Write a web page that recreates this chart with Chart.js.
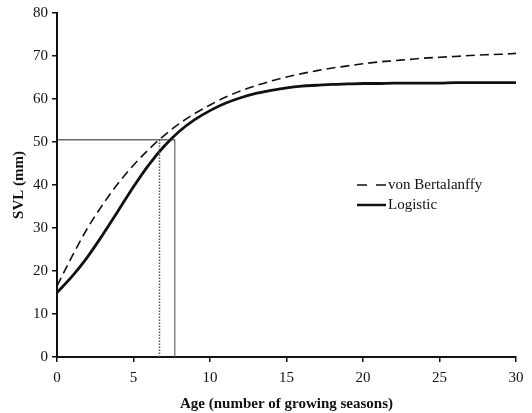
<!DOCTYPE html>
<html><head><meta charset="utf-8">
<script src="https://cdn.jsdelivr.net/npm/chart.js@4/dist/chart.umd.min.js"></script>
<style>html,body{margin:0;padding:0;background:#fff}#wrap{width:532px;height:413px}</style>
</head><body><div id="wrap"><canvas id="c" width="532" height="413"></canvas></div>
<script>
const ages = [0,1,2,3,4,5,6,7,8,9,10,11,12,13,14,15,16,17,18,19,20,21,22,23,24,25,26,27,28,29,30];
const vonBertalanffy = [16.5,23.5,30.0,35.5,40.4,44.6,48.3,51.5,54.3,56.6,58.6,60.4,61.9,63.1,64.2,65.1,65.9,66.6,67.2,67.7,68.2,68.6,68.9,69.2,69.5,69.7,69.9,70.1,70.3,70.4,70.6];
const logistic = [15.0,18.8,23.3,28.5,34.0,39.6,44.7,49.0,52.5,55.2,57.3,59.0,60.3,61.3,62.0,62.6,63.0,63.2,63.4,63.5,63.6,63.6,63.7,63.7,63.7,63.7,63.8,63.8,63.8,63.8,63.8];
const refSVL = 50.5;
const refAgeLogistic = 7.7;
const refAgeVB = 6.7;
const xTicks = [0,5,10,15,20,25,30];
const yTicks = [0,10,20,30,40,50,60,70,80];
const seriesNames = ['von Bertalanffy','Logistic'];

const pts = (xs, ys) => xs.map((x,i)=>({x:x,y:ys[i]}));
const serif = '"Liberation Serif", "Times New Roman", serif';

const legendPlugin = {
  id:'customLegend',
  afterDraw(chart){
    const ctx = chart.ctx;
    ctx.save();
    ctx.strokeStyle = '#111';
    ctx.fillStyle = '#111';
    ctx.font = '15px ' + serif;
    ctx.textBaseline = 'middle';
    ctx.lineWidth = 1.5;
    ctx.setLineDash([10,9]);
    ctx.beginPath(); ctx.moveTo(357,185); ctx.lineTo(386,185); ctx.stroke();
    ctx.setLineDash([]);
    ctx.fillText(seriesNames[0], 388, 185);
    ctx.lineWidth = 2.5;
    ctx.beginPath(); ctx.moveTo(357,205); ctx.lineTo(386,205); ctx.stroke();
    ctx.fillText(seriesNames[1], 388, 205);
    ctx.restore();
  }
};

new Chart(document.getElementById('c'), {
  type:'line',
  data:{
    datasets:[
      {data:[{x:0,y:refSVL},{x:refAgeLogistic,y:refSVL}], borderColor:'#222', borderWidth:1, pointRadius:0},
      {data:[{x:refAgeLogistic,y:0},{x:refAgeLogistic,y:refSVL}], borderColor:'#666', borderWidth:1.2, pointRadius:0},
      {data:[{x:refAgeVB,y:0},{x:refAgeVB,y:refSVL}], borderColor:'#555', borderWidth:1.5, borderDash:[1.5,1.5], pointRadius:0},
      {label:seriesNames[0], data:pts(ages,vonBertalanffy), borderColor:'#111', borderWidth:1.6, borderDash:[9,5], pointRadius:0, tension:0.4, cubicInterpolationMode:'monotone'},
      {label:seriesNames[1], data:pts(ages,logistic), borderColor:'#111', borderWidth:2.8, pointRadius:0, tension:0.4, cubicInterpolationMode:'monotone'}
    ]
  },
  options:{
    responsive:false, animation:false,
    layout:{padding:{left:0,right:16,top:12,bottom:0}},
    plugins:{legend:{display:false}, tooltip:{enabled:false}},
    scales:{
      x:{type:'linear', min:0, max:30,
        afterBuildTicks(s){ s.ticks = xTicks.map(v=>({value:v})); },
        afterFit(s){ s.height = 56; },
        grid:{display:true, drawOnChartArea:false, drawTicks:true, tickLength:5, color:'#111', lineWidth:1.5},
        border:{display:true, color:'#111', width:2},
        ticks:{color:'#111', font:{family:serif, size:15}, padding:7, maxRotation:0},
        title:{display:true, text:'Age (number of growing seasons)', color:'#111', font:{family:serif, size:15, weight:'bold'}, padding:{top:3,bottom:0}}
      },
      y:{type:'linear', min:0, max:80,
        afterBuildTicks(s){ s.ticks = yTicks.map(v=>({value:v})); },
        afterFit(s){ s.width = 57; },
        grid:{display:true, drawOnChartArea:false, drawTicks:true, tickLength:5, color:'#111', lineWidth:1.5},
        border:{display:true, color:'#111', width:2},
        ticks:{color:'#111', font:{family:serif, size:15}, padding:4},
        title:{display:true, text:'SVL (mm)', color:'#111', font:{family:serif, size:15, weight:'bold'}, padding:{top:10,bottom:4}}
      }
    }
  },
  plugins:[legendPlugin]
});
</script></body></html>
